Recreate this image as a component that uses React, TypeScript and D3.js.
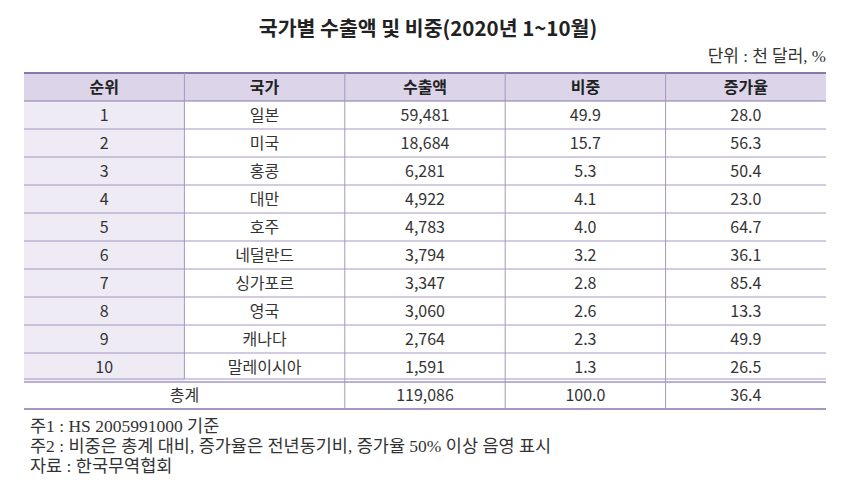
import React from "react";
import * as d3 from "d3";

const title = "국가별 수출액 및 비중(2020년 1~10월)";
const unitLabel = "단위 : 천 달러, %";
const headers = ["순위", "국가", "수출액", "비중", "증가율"];
const ranks = ["1", "2", "3", "4", "5", "6", "7", "8", "9", "10"];
const countries = ["일본", "미국", "홍콩", "대만", "호주", "네덜란드", "싱가포르", "영국", "캐나다", "말레이시아"];
const exports = [59481, 18684, 6281, 4922, 4783, 3794, 3347, 3060, 2764, 1591];
const shares = [49.9, 15.7, 5.3, 4.1, 4.0, 3.2, 2.8, 2.6, 2.3, 1.3];
const growth = [28.0, 56.3, 50.4, 23.0, 64.7, 36.1, 85.4, 13.3, 49.9, 26.5];
const totalLabel = "총계";
const totalExport = 119086;
const totalShare = 100.0;
const totalGrowth = 36.4;
const notes = [
  "주1 : HS 2005991000 기준",
  "주2 : 비중은 총계 대비, 증가율은 전년동기비, 증가율 50% 이상 음영 표시",
  "자료 : 한국무역협회",
];

const W = 851;
const H = 493;
const SANS = "'Noto Sans CJK KR', 'Noto Sans', sans-serif";
const SERIF = "'Liberation Serif', 'Noto Sans CJK KR', serif";
const LINE = "#a596c2";
const LINE_DARK = "#8a78a8";
const TEXT = "#333";

export default function App() {
  const rowKeys = ["header", ...ranks, "total"];
  const y = d3.scaleBand<string>().domain(rowKeys).range([73, 409]).padding(0);
  const x = d3.scaleBand<string>().domain(headers).range([24, 826]).padding(0);
  const fmt = d3.format(",");
  const f1 = d3.format(".1f");
  const bw = x.bandwidth();
  const bh = y.bandwidth();
  const cx = (h: string) => (x(h) as number) + bw / 2;

  const rows = ranks.map((r, i) => [r, countries[i], fmt(exports[i]), f1(shares[i]), f1(growth[i])]);

  const yh = y("header") as number;
  const yt = y("total") as number;
  const yEnd = yt + bh;

  return (
    <svg width={W} height={H} style={{ display: "block", position: "absolute", left: 0, top: 0, background: "#fff" }}>
      <rect x={0} y={0} width={W} height={H} fill="#fff" />
      <text x={428} y={36} textAnchor="middle" fontFamily={SANS} fontWeight={700} fontSize={20.5} fill="#222">
        {title}
      </text>
      <text x={826} y={62} textAnchor="end" fontFamily={SERIF} fontSize={17} fill={TEXT}>
        {unitLabel}
      </text>

      {/* header bg */}
      <rect x={24} y={yh} width={826 - 24} height={bh} fill="#dcd5e9" />
      {/* first column bg */}
      <rect x={x(headers[0])} y={y(ranks[0])} width={bw} height={bh * ranks.length} fill="#eeebf5" />

      {/* horizontal lines */}
      {ranks.slice(0, -1).map((r) => (
        <line key={"h" + r} x1={24} x2={826} y1={(y(r) as number) + bh} y2={(y(r) as number) + bh} stroke={LINE} strokeWidth={1} />
      ))}
      <line x1={24} x2={826} y1={yh + bh} y2={yh + bh} stroke={LINE_DARK} strokeWidth={1.2} />
      <line x1={24} x2={826} y1={yh} y2={yh} stroke={LINE_DARK} strokeWidth={2} />
      <line x1={24} x2={826} y1={yt - 2} y2={yt - 2} stroke={LINE} strokeWidth={1} />
      <line x1={24} x2={826} y1={yt + 1} y2={yt + 1} stroke={LINE} strokeWidth={1.5} />
      <line x1={24} x2={826} y1={yEnd} y2={yEnd} stroke={LINE} strokeWidth={2} />

      {/* vertical lines */}
      {headers.slice(1).map((h) => (
        <line
          key={"v" + h}
          x1={x(h) as number}
          x2={x(h) as number}
          y1={yh}
          y2={h === headers[1] ? yt - 2 : yEnd}
          stroke={LINE}
          strokeWidth={1}
        />
      ))}

      {/* header text */}
      {headers.map((h) => (
        <text key={"t" + h} x={cx(h)} y={yh + bh / 2 + 6} textAnchor="middle" fontFamily={SANS} fontWeight={700} fontSize={16} fill="#222">
          {h}
        </text>
      ))}

      {/* body */}
      {rows.map((row, i) =>
        row.map((v, j) => (
          <text
            key={`c${i}-${j}`}
            x={cx(headers[j])}
            y={(y(ranks[i]) as number) + bh / 2 + 6}
            textAnchor="middle"
            fontFamily={SANS}
            fontSize={16}
            fill={TEXT}
          >
            {v}
          </text>
        ))
      )}

      {/* total row */}
      <text x={((x(headers[0]) as number) + (x(headers[2]) as number)) / 2} y={yt + bh / 2 + 6} textAnchor="middle" fontFamily={SANS} fontSize={16} fill={TEXT}>
        {totalLabel}
      </text>
      {[fmt(totalExport), f1(totalShare), f1(totalGrowth)].map((v, j) => (
        <text key={"tt" + j} x={cx(headers[j + 2])} y={yt + bh / 2 + 6} textAnchor="middle" fontFamily={SANS} fontSize={16} fill={TEXT}>
          {v}
        </text>
      ))}

      {notes.map((n, i) => (
        <text key={"n" + i} x={30} y={432 + i * 20} fontFamily={SERIF} fontSize={17.5} fill={TEXT}>
          {n}
        </text>
      ))}
    </svg>
  );
}
